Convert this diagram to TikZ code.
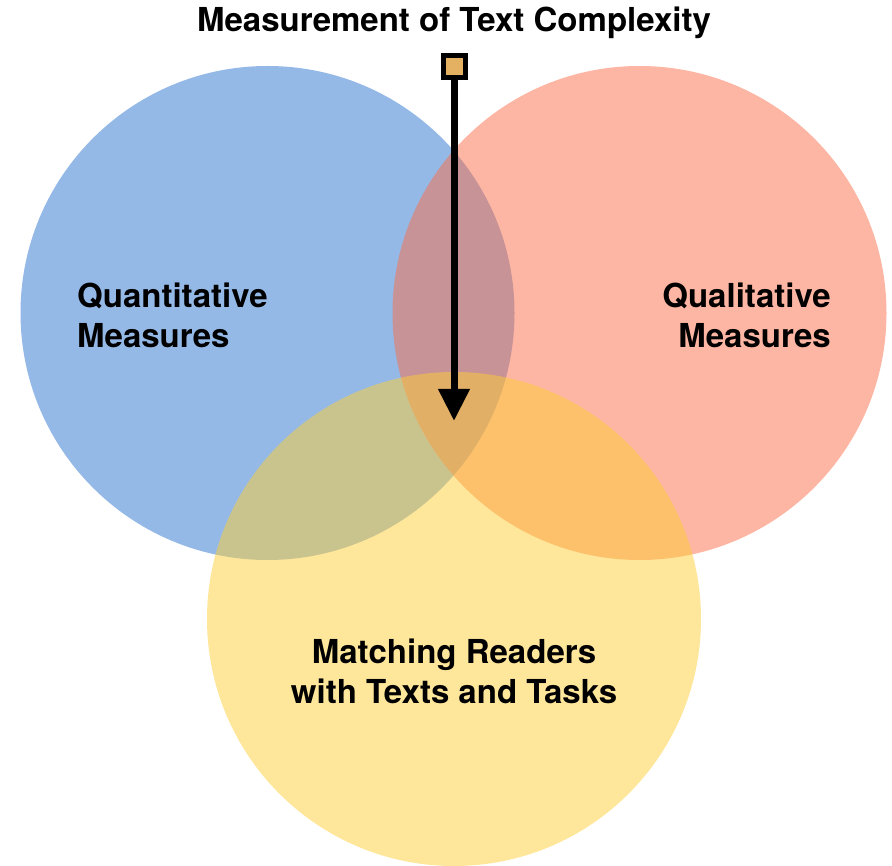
\documentclass[tikz,border=0pt]{standalone}
\usepackage{fontspec}
\setmainfont{TeX Gyre Heros}
\usetikzlibrary{arrows.meta}
\definecolor{cblue}{RGB}{43,115,207}
\definecolor{cred}{RGB}{251,109,71}
\definecolor{cyel}{RGB}{253,205,55}
\definecolor{csq}{RGB}{228,176,98}
\tikzset{
  venn/.style={circle, minimum size=494pt, inner sep=0pt, fill opacity=0.5, draw=none},
  lbl/.style={font=\fontsize{33}{40}\selectfont\bfseries, text=black, inner sep=0pt},
}
\begin{document}
\begin{tikzpicture}[x=1pt,y=-1pt]
\useasboundingbox (0,0) rectangle (892,866);
\node[venn, fill=cblue] (blue) at (267.5,313) {};
\node[venn, fill=cred] (red) at (639.5,313) {};
\node[venn, fill=cyel] (yel) at (454,619) {};
\node[lbl, align=left, anchor=west] (quant) at (77,315) {Quantitative\\Measures};
\node[lbl, align=right, anchor=east] (qual) at (831,315) {Qualitative\\Measures};
\node[lbl, align=center] (match) at (454,671) {Matching Readers\\with Texts and Tasks};
\node[lbl] (title) at (454,23) {Measurement of Text Complexity};
\node[draw=black, line width=5pt, fill=csq, minimum size=22pt, inner sep=0pt] (sq) at (454,67) {};
\coordinate (tip) at (454,421);
\draw[line width=7pt, -{Triangle[length=32pt,width=30pt]}] (sq.south) -- (tip);
\end{tikzpicture}
\end{document}
